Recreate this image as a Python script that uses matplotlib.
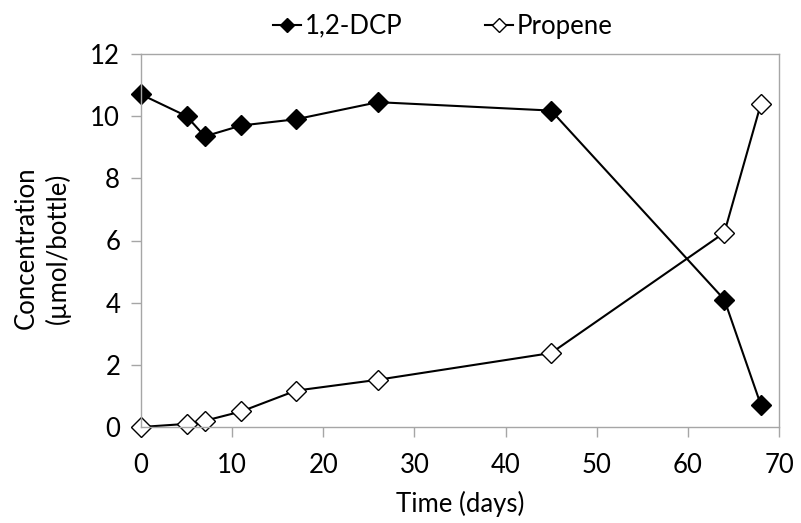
import matplotlib.pyplot as plt

# Time points (days) and measured concentrations (umol/bottle)
days = [0, 5, 7, 11, 17, 26, 45, 64, 68]
dcp = [10.7, 10.0, 9.35, 9.7, 9.9, 10.45, 10.18, 4.1, 0.72]
propene = [0.0, 0.1, 0.2, 0.5, 1.17, 1.52, 2.38, 6.25, 10.38]

plt.rcParams['font.family'] = ['Lato', 'DejaVu Sans']

fig = plt.figure(figsize=(8.01, 5.23), dpi=100)
ax = fig.add_axes([141 / 801, 1 - 427 / 523, (779 - 141) / 801, (427 - 54) / 523])

ax.plot(days, dcp, color="black", linewidth=1.5, marker="D", markersize=10,
        markerfacecolor="black", markeredgecolor="black", label="1,2-DCP", clip_on=False)
ax.plot(days, propene, color="black", linewidth=1.5, marker="D", markersize=10,
        markerfacecolor="white", markeredgecolor="black", markeredgewidth=1,
        label="Propene", clip_on=False)

ax.set_xlim(0, 70)
ax.set_ylim(0, 12)
ax.set_xticks(range(0, 71, 10))
ax.set_yticks(range(0, 13, 2))

for s in ax.spines.values():
    s.set_color("#a6a6a6")
    s.set_linewidth(1)
ax.tick_params(axis="both", colors="#a6a6a6", length=7, width=1, labelcolor="black",
               labelsize=18.5, direction="out")
ax.tick_params(axis="x", pad=12)
ax.tick_params(axis="y", pad=8)

ax.set_xlabel("Time (days)", fontsize=18.5, labelpad=9)
ax.set_ylabel("Concentration\n(µmol/bottle)", fontsize=18.5, labelpad=14, linespacing=1.3)
ax.yaxis.label.set_y(0.48)

ax.legend(loc="lower center", bbox_to_anchor=(0.473, 1.0), ncol=2, frameon=False,
          fontsize=18.5, handlelength=1.1, handletextpad=0.15, columnspacing=3.2,
          borderaxespad=0.2, markerscale=0.7)

plt.savefig("out.png", dpi=100)
